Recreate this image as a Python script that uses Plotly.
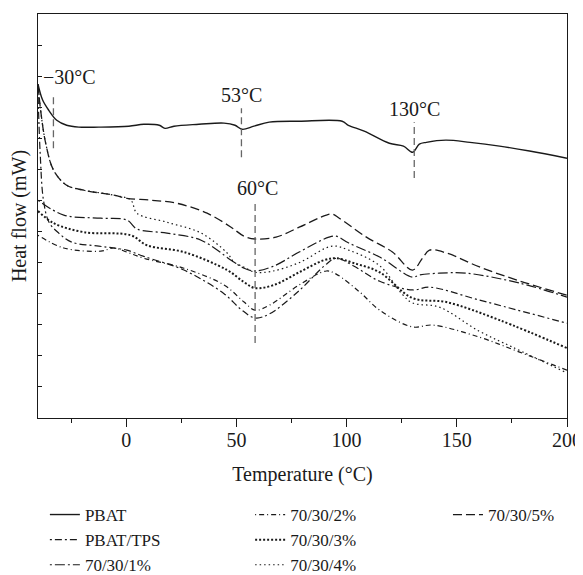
import plotly.graph_objects as go

# ---------------- data ----------------
series_names = ["PBAT", "PBAT/TPS", "70/30/1%", "70/30/2%", "70/30/3%", "70/30/4%", "70/30/5%"]

pbat_t = [-40, -37.9, -35.1, -31.5, -27, -21.5, -12.4, 1.2, 8, 15, 17.6, 21.7, 33, 44.4, 49.4, 52.6,
          58, 64.9, 78.5, 98, 100.8, 108, 119.4, 125.8, 130, 133, 136.2, 145, 156, 169.4, 183, 200]
pbat_h = [10.74, 10.23, 9.90, 9.58, 9.42, 9.36, 9.36, 9.39, 9.45, 9.42, 9.32, 9.39, 9.45, 9.49, 9.42, 9.29,
          9.39, 9.52, 9.55, 9.55, 9.42, 9.23, 8.84, 8.75, 8.55, 8.81, 8.87, 8.94, 8.87, 8.75, 8.59, 8.36]

tps_t = [-40, -39, -37.5, -35, -30.6, -24.7, -12.4, -5.6, 0.3, 8, 26.2, 44.4, 52, 58.5, 65, 78.5, 90,
         95.3, 103, 115, 130, 137.6, 160, 200]
tps_h = [10.5, 8.5, 7.0, 6.3, 5.95, 5.66, 5.53, 5.47, 5.4, 5.2, 4.76, 4.0, 3.5, 3.22, 3.35, 4.1, 4.9,
         5.14, 4.9, 4.4, 4.12, 4.21, 3.8, 3.05]

p1_t = [-40, -28.3, -11.5, 0.3, 4.9, 18.5, 34, 47.6, 53.5, 58.5, 67, 78.5, 92, 95.3, 101, 115, 129.9,
        133, 142, 154.4, 178.5, 200]
p1_h = [7.01, 6.53, 6.43, 6.37, 6.08, 5.95, 5.72, 5.08, 4.82, 4.73, 4.89, 5.34, 5.82, 5.85, 5.63, 5.18,
        4.53, 4.60, 4.66, 4.66, 4.34, 3.89]

p2_t = [-40, -28.3, -11.5, -5.6, 0.3, 8, 26.2, 44.4, 53.5, 58.5, 65, 78.5, 90.8, 95.3, 106, 115, 129.9,
        139, 160.3, 178.5, 200]
p2_h = [5.88, 5.47, 5.37, 5.47, 5.34, 5.14, 4.82, 4.28, 3.73, 3.47, 3.63, 4.28, 4.73, 4.63, 4.05, 3.47,
        2.93, 2.99, 2.60, 2.12, 1.54]

p3_t = [-40, -32.9, -19.2, 2.1, 9.4, 26.2, 45.8, 53.5, 58.5, 67, 78.5, 89.8, 95.3, 103.5, 115, 129.9,
        145.3, 169.4, 200]
p3_h = [6.66, 6.27, 5.98, 5.88, 5.56, 5.34, 4.76, 4.37, 4.18, 4.28, 4.69, 5.08, 5.14, 4.98, 4.69, 3.86,
        3.73, 3.15, 2.25]

p4_t = [-40, -38.8, -36.5, -32.9, -27, -19.2, -5.6, 2.1, 4.9, 18.5, 34, 45.8, 48.9, 53.3, 58.5, 66,
        78.5, 93.5, 101, 115, 125, 130, 142, 160, 175.3, 200]
p4_h = [10.74, 9.90, 8.84, 7.97, 7.49, 7.33, 7.17, 7.01, 6.59, 6.30, 5.95, 5.31, 5.02, 4.86, 4.69, 4.72,
        5.0, 5.53, 5.40, 4.9, 4.0, 3.70, 3.57, 2.8, 2.28, 1.45]

p5_t = [-40, -38.8, -36.5, -32.9, -27, -19.2, -5.6, 0.3, 11.2, 23, 36.7, 47.6, 53.5, 58.5, 68, 78.5,
        90.8, 93.5, 96.7, 109, 120.8, 129.9, 134.4, 137.6, 145.3, 160.3, 178.5, 200]
p5_h = [10.74, 9.90, 8.84, 7.97, 7.49, 7.33, 7.17, 7.07, 7.01, 6.91, 6.59, 6.14, 5.85, 5.76, 5.82, 6.14,
        6.53, 6.56, 6.43, 5.82, 5.34, 4.76, 5.14, 5.40, 5.31, 4.86, 4.41, 3.95]

x_ticks = [0, 50, 100, 150, 200]

# marked transition temperatures
mark_labels = ["\u221230\u00b0C", "53\u00b0C", "60\u00b0C", "130\u00b0C"]
mark_t = [-33, 52.3, 58.5, 130.7]
mark_y0 = [8.68, 8.39, 2.41, 7.72]
mark_y1 = [10.32, 9.97, 7.01, 9.52]
label_x = [-38.5, 52.3, 59.5, 130.7]
label_y = [10.96, 10.39, 7.40, 9.94]
label_anchor = ["left", "center", "center", "center"]

# ---------------- figure ----------------
FONT = "Liberation Serif, Times New Roman, serif"
BLACK = "#1a1a1a"
FS = 20
LFS = 17

styles = [
    dict(dash="solid", width=1.4),
    dict(dash="2px,3px,7px,3px", width=1.2),
    dict(dash="2px,3px,10px,3px", width=1.2),
    dict(dash="1px,3px,5px,3px", width=1.2),
    dict(dash="2px,2px", width=2.0),
    dict(dash="1.5px,3px", width=1.2),
    dict(dash="9px,4px", width=1.3),
]
xs = [pbat_t, tps_t, p1_t, p2_t, p3_t, p4_t, p5_t]
ys = [pbat_h, tps_h, p1_h, p2_h, p3_h, p4_h, p5_h]
legend_ids = ["legend", "legend", "legend", "legend2", "legend2", "legend2", "legend3"]

fig = go.Figure()
for name, x, y, st, lg in zip(series_names, xs, ys, styles, legend_ids):
    fig.add_trace(go.Scatter(x=x, y=y, mode="lines", name=name, legend=lg,
                             line=dict(color=BLACK, width=st["width"], dash=st["dash"]),
                             line_shape="spline"))

for t, a, b in zip(mark_t, mark_y0, mark_y1):
    fig.add_trace(go.Scatter(x=[t, t], y=[a, b], mode="lines", showlegend=False,
                             line=dict(color="#666666", width=1.3, dash="7px,4px"),
                             hoverinfo="skip"))

for txt, lx, ly, anc in zip(mark_labels, label_x, label_y, label_anchor):
    fig.add_annotation(x=lx, y=ly, text=txt, showarrow=False, xanchor=anc, yanchor="middle",
                       font=dict(family=FONT, size=FS, color=BLACK))

leg_common = dict(yanchor="top", xanchor="left", bgcolor="rgba(0,0,0,0)",
                  font=dict(family=FONT, size=LFS, color=BLACK), tracegroupgap=0,
                  itemwidth=30)

fig.update_layout(
    width=583, height=575,
    margin=dict(l=30, r=24, t=6, b=165, autoexpand=False),
    plot_bgcolor="white", paper_bgcolor="white",
    font=dict(family=FONT, size=FS, color=BLACK),
    xaxis=dict(range=[-40, 200], tickvals=x_ticks, ticks="outside", ticklen=8, tickwidth=1.2,
               tickcolor=BLACK, showline=True, linecolor=BLACK, linewidth=1.3, mirror=True,
               showgrid=False, zeroline=False, automargin=False, ticklabelstandoff=-4,
               minor=dict(dtick=25, tick0=0, ticks="outside", ticklen=4, tickwidth=1.2, tickcolor=BLACK,
                          showgrid=False),
               title=dict(text="Temperature (\u00b0C)", standoff=16,
                          font=dict(family=FONT, size=FS, color=BLACK)),
               tickfont=dict(family=FONT, size=FS, color=BLACK)),
    yaxis=dict(range=[0, 13], dtick=1, tick0=0, ticks="inside", ticklen=4, tickwidth=1.2, tickcolor=BLACK,
               showticklabels=False, showline=True, linecolor=BLACK, linewidth=1.3, mirror=True,
               showgrid=False, zeroline=False, automargin=False,
               title=dict(text="Heat flow (mW)", standoff=7,
                          font=dict(family=FONT, size=FS, color=BLACK))),
    legend=dict(x=0.013, y=-0.1955, **leg_common),
    legend2=dict(x=0.401, y=-0.1955, **leg_common),
    legend3=dict(x=0.775, y=-0.1955, **leg_common),
)

fig.write_html("out.html")
